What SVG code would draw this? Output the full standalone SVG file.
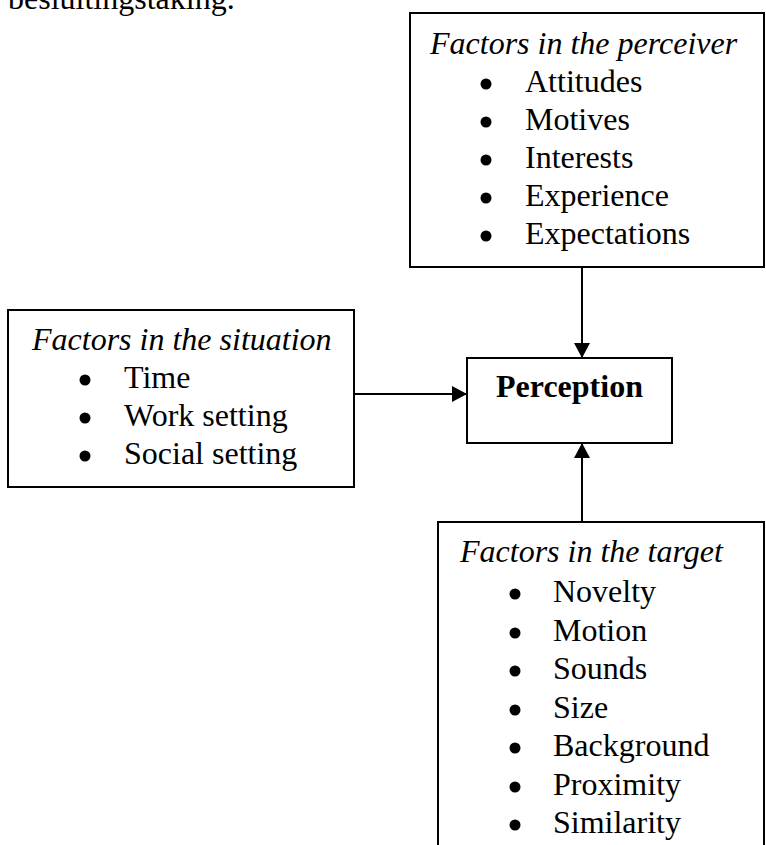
<svg xmlns="http://www.w3.org/2000/svg" width="766" height="845" viewBox="0 0 766 845">
<style>
text{font-family:"Liberation Serif","Times New Roman",serif;font-size:32px;fill:#000}
.t{font-style:italic}
.b{font-weight:bold}
.box{fill:#fff;stroke:#000;stroke-width:2}
.dot{fill:#000}
.c{stroke:#000;stroke-width:2;fill:none}
</style>
<defs>
<marker id="ah" viewBox="0 0 15 16" refX="15" refY="8" markerWidth="15" markerHeight="16" markerUnits="userSpaceOnUse" orient="auto">
<path d="M0,0 L15,8 L0,16 z" fill="#000"/>
</marker>
</defs>
<rect width="766" height="845" fill="#fff"/>
<text x="8" y="9">besluitingstaking.</text>
<g id="perceiver">
<rect class="box" x="410" y="13" width="354" height="254"/>
<text class="t" x="430" y="54">Factors in the perceiver</text>
<circle class="dot" cx="486" cy="84" r="5.5"/><text x="525" y="92">Attitudes</text>
<circle class="dot" cx="486" cy="122" r="5.5"/><text x="525" y="130">Motives</text>
<circle class="dot" cx="486" cy="160" r="5.5"/><text x="525" y="168">Interests</text>
<circle class="dot" cx="486" cy="198" r="5.5"/><text x="525" y="206">Experience</text>
<circle class="dot" cx="486" cy="236" r="5.5"/><text x="525" y="244">Expectations</text>
</g>
<g id="situation">
<rect class="box" x="8" y="310" width="346" height="177"/>
<text class="t" x="32" y="350">Factors in the situation</text>
<circle class="dot" cx="85" cy="380" r="5.5"/><text x="124" y="388">Time</text>
<circle class="dot" cx="85" cy="418" r="5.5"/><text x="124" y="426">Work setting</text>
<circle class="dot" cx="85" cy="456" r="5.5"/><text x="124" y="464">Social setting</text>
</g>
<g id="perception">
<rect class="box" x="467" y="358" width="205" height="85"/>
<text class="b" x="569.5" y="397" text-anchor="middle">Perception</text>
</g>
<g id="target">
<rect class="box" x="438" y="522" width="326" height="340"/>
<text class="t" x="460" y="562">Factors in the target</text>
<circle class="dot" cx="515" cy="594" r="5.5"/><text x="553" y="602">Novelty</text>
<circle class="dot" cx="515" cy="633" r="5.5"/><text x="553" y="641">Motion</text>
<circle class="dot" cx="515" cy="671" r="5.5"/><text x="553" y="679">Sounds</text>
<circle class="dot" cx="515" cy="710" r="5.5"/><text x="553" y="718">Size</text>
<circle class="dot" cx="515" cy="748" r="5.5"/><text x="553" y="756">Background</text>
<circle class="dot" cx="515" cy="787" r="5.5"/><text x="553" y="795">Proximity</text>
<circle class="dot" cx="515" cy="825" r="5.5"/><text x="553" y="833">Similarity</text>
</g>
<g id="connectors">
<line class="c" x1="582" y1="267" x2="582" y2="358" marker-end="url(#ah)"/>
<line class="c" x1="582" y1="522" x2="582" y2="443" marker-end="url(#ah)"/>
<line class="c" x1="355" y1="394" x2="467" y2="394" marker-end="url(#ah)"/>
</g>
</svg>
